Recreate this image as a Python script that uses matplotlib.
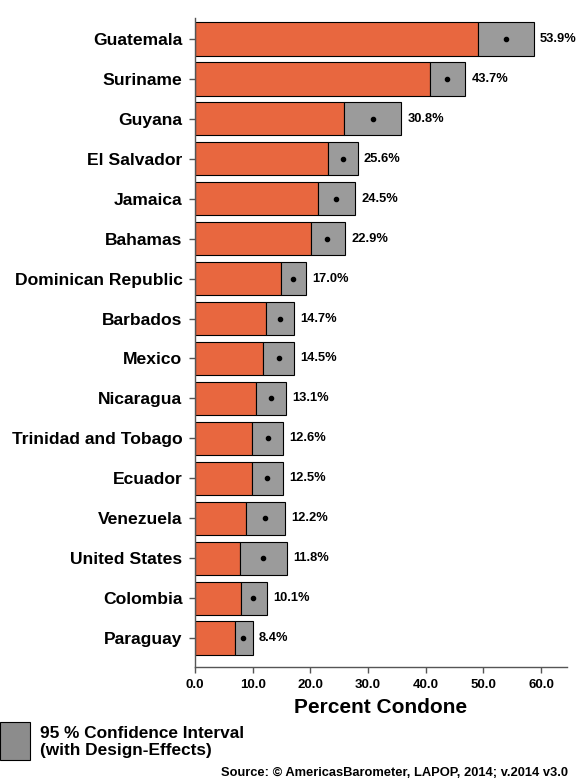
import matplotlib
matplotlib.use("Agg")
import matplotlib.pyplot as plt
from matplotlib.patches import Rectangle

plt.rcParams['font.family'] = ['Liberation Sans', 'DejaVu Sans']

countries = ["Guatemala", "Suriname", "Guyana", "El Salvador", "Jamaica", "Bahamas",
             "Dominican Republic", "Barbados", "Mexico", "Nicaragua", "Trinidad and Tobago",
             "Ecuador", "Venezuela", "United States", "Colombia", "Paraguay"]
estimates = [53.9, 43.7, 30.8, 25.6, 24.5, 22.9, 17.0, 14.7, 14.5, 13.1, 12.6, 12.5, 12.2, 11.8, 10.1, 8.4]
ci_low = [49.1, 40.7, 25.8, 23.0, 21.3, 20.1, 14.9, 12.3, 11.8, 10.6, 9.9, 9.9, 8.8, 7.8, 8.0, 6.9]
ci_high = [58.7, 46.9, 35.8, 28.2, 27.7, 26.0, 19.2, 17.1, 17.1, 15.7, 15.2, 15.2, 15.6, 15.9, 12.5, 10.0]
xticks = [0, 10, 20, 30, 40, 50, 60]

ORANGE = "#E8673F"
GRAY = "#9B9B9B"

fig = plt.figure(figsize=(5.79, 7.81), dpi=100)
ax = fig.add_axes([195/579, 1-667/781, (567-195)/579, (667-18)/781])

ypos = list(range(len(countries)))
h = 0.83
ax.barh(ypos, ci_low, height=h, color=ORANGE, edgecolor="black", linewidth=0.8, zorder=2)
widths = [hi - lo for lo, hi in zip(ci_low, ci_high)]
ax.barh(ypos, widths, left=ci_low, height=h, color=GRAY, edgecolor="black", linewidth=0.8, zorder=2)
ax.scatter(estimates, ypos, s=9, color="black", zorder=3)
for y, e, hi in zip(ypos, estimates, ci_high):
    ax.text(hi + 1.1, y, f"{e:.1f}%", va="center", ha="left", fontsize=9.3, fontweight="bold")

ax.set_xlim(0, 64.5)
ax.set_ylim(15.726, -0.526)
ax.set_yticks(ypos)
ax.set_yticklabels(countries, fontsize=12.6, fontweight="bold")
ax.set_xticks(xticks)
ax.set_xticklabels([f"{t:.1f}" for t in xticks], fontsize=9.5, fontweight="bold")
ax.set_xlabel("Percent Condone", fontsize=15, fontweight="bold", labelpad=5)

for s in ["top", "right"]:
    ax.spines[s].set_visible(False)
for s in ["left", "bottom"]:
    ax.spines[s].set_color("#555555")
    ax.spines[s].set_linewidth(1.0)
ax.tick_params(axis="both", direction="out", color="#555555", length=4, width=1.0)
ax.tick_params(axis="y", pad=5)
ax.tick_params(axis="x", pad=5)

# legend
fig.patches.append(Rectangle((0/579, 1-760/781), 30/579, 38/781, transform=fig.transFigure,
                             facecolor="#8C8C8C", edgecolor="black", linewidth=0.8))
fig.text(40/579, 1-734/781, "95 % Confidence Interval", fontsize=12.4, fontweight="bold", va="center")
fig.text(40/579, 1-750/781, "(with Design-Effects)", fontsize=12.4, fontweight="bold", va="center")
fig.text(568/579, 1-773/781, "Source: \u00a9 AmericasBarometer, LAPOP, 2014; v.2014 v3.0",
         fontsize=9.3, fontweight="bold", ha="right", va="center")

fig.savefig("out.png", dpi=100)
